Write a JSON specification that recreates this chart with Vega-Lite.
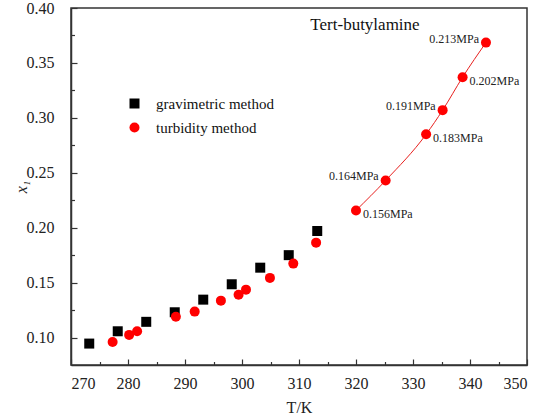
{
  "$schema": "https://vega.github.io/schema/vega-lite/v6.json",
  "width": 456,
  "height": 357,
  "autosize": {"type": "none"},
  "padding": {"left": 71, "top": 8, "right": 13, "bottom": 51},
  "background": "white",
  "title": {
    "text": "Tert-butylamine",
    "font": "Liberation Serif",
    "fontSize": 17,
    "fontWeight": "normal",
    "color": "#111",
    "anchor": "middle",
    "frame": "group",
    "dx": 66,
    "dy": 38
  },
  "config": {
    "font": "Liberation Serif",
    "title": {"font": "Liberation Serif"},
    "view": {"stroke": "#333", "strokeWidth": 1.5},
    "axis": {
      "labelFont": "Liberation Serif",
      "labelFontSize": 16,
      "labelColor": "#222",
      "titleFont": "Liberation Serif",
      "titleFontSize": 16,
      "titleFontWeight": "normal",
      "titleColor": "#222",
      "domainColor": "#333",
      "domainWidth": 1.5,
      "tickColor": "#333",
      "tickWidth": 1.2,
      "grid": false
    },
    "legend": {"labelFont": "Liberation Serif"},
    "text": {"font": "Liberation Serif"}
  },
  "data": {
    "values": [
      {"T": 273.2, "x1": 0.0945, "method": "gravimetric method"},
      {"T": 278.2, "x1": 0.1057, "method": "gravimetric method"},
      {"T": 283.2, "x1": 0.1143, "method": "gravimetric method"},
      {"T": 288.2, "x1": 0.123, "method": "gravimetric method"},
      {"T": 293.2, "x1": 0.1345, "method": "gravimetric method"},
      {"T": 298.2, "x1": 0.1485, "method": "gravimetric method"},
      {"T": 303.2, "x1": 0.1636, "method": "gravimetric method"},
      {"T": 308.2, "x1": 0.175, "method": "gravimetric method"},
      {"T": 313.2, "x1": 0.197, "method": "gravimetric method"},
      {"T": 277.3, "x1": 0.096, "method": "turbidity method"},
      {"T": 280.2, "x1": 0.1024, "method": "turbidity method"},
      {"T": 281.6, "x1": 0.1057, "method": "turbidity method"},
      {"T": 288.4, "x1": 0.119, "method": "turbidity method"},
      {"T": 291.7, "x1": 0.1236, "method": "turbidity method"},
      {"T": 296.3, "x1": 0.1336, "method": "turbidity method"},
      {"T": 299.4, "x1": 0.139, "method": "turbidity method"},
      {"T": 300.7, "x1": 0.1436, "method": "turbidity method"},
      {"T": 304.9, "x1": 0.1543, "method": "turbidity method"},
      {"T": 309.0, "x1": 0.1673, "method": "turbidity method"},
      {"T": 313.0, "x1": 0.1864, "method": "turbidity method"},
      {"T": 320.0, "x1": 0.2157, "method": "turbidity method", "label": "0.156MPa"},
      {"T": 325.2, "x1": 0.243, "method": "turbidity method", "label": "0.164MPa"},
      {"T": 332.3, "x1": 0.285, "method": "turbidity method", "label": "0.183MPa"},
      {"T": 335.2, "x1": 0.307, "method": "turbidity method", "label": "0.191MPa"},
      {"T": 338.7, "x1": 0.337, "method": "turbidity method", "label": "0.202MPa"},
      {"T": 342.8, "x1": 0.3685, "method": "turbidity method", "label": "0.213MPa"}
    ]
  },
  "encoding": {
    "x": {
      "field": "T",
      "type": "quantitative",
      "scale": {"domain": [270, 350], "nice": false, "zero": false},
      "axis": {
        "title": "T/K",
        "values": [270, 275, 280, 285, 290, 295, 300, 305, 310, 315, 320, 325, 330, 335, 340, 345, 350],
        "labelExpr": "datum.value % 10 === 0 ? datum.value : ''",
        "tickSize": {"condition": {"test": "datum.value % 10 === 0", "value": -6}, "value": -3.5},
        "labelPadding": 16,
        "titlePadding": 8
      }
    },
    "y": {
      "field": "x1",
      "type": "quantitative",
      "scale": {"domain": [0.075, 0.4], "nice": false, "zero": false},
      "axis": {
        "title": "x₁",
        "titleFontStyle": "italic",
        "titleX": -42,
        "values": [0.1, 0.125, 0.15, 0.175, 0.2, 0.225, 0.25, 0.275, 0.3, 0.325, 0.35, 0.375, 0.4],
        "labelExpr": "abs(datum.value * 20 - round(datum.value * 20)) < 0.01 ? format(datum.value, '.2f') : ''",
        "tickSize": {"condition": {"test": "abs(datum.value * 20 - round(datum.value * 20)) < 0.01", "value": -6}, "value": -3.5},
        "labelPadding": 23
      }
    }
  },
  "layer": [
    {
      "transform": [{"filter": "isValid(datum.label)"}],
      "mark": {"type": "line", "color": "#e8201e", "strokeWidth": 1, "interpolate": "monotone"},
      "encoding": {}
    },
    {
      "mark": {"type": "point", "filled": true, "opacity": 1, "size": 100},
      "encoding": {
        "color": {
          "field": "method",
          "type": "nominal",
          "scale": {"domain": ["gravimetric method", "turbidity method"], "range": ["#000000", "#ff0000"]},
          "legend": {
            "title": null,
            "orient": "none",
            "legendX": 56,
            "legendY": 88,
            "labelFont": "Liberation Serif",
            "labelFontSize": 15,
            "labelColor": "#111",
            "symbolSize": 100,
            "labelOffset": 14,
            "rowPadding": 8
          }
        },
        "shape": {
          "field": "method",
          "type": "nominal",
          "scale": {"domain": ["gravimetric method", "turbidity method"], "range": ["square", "circle"]}
        }
      }
    },
    {
      "transform": [{"filter": "indexof(['0.213MPa','0.191MPa','0.164MPa'], datum.label) >= 0"}],
      "mark": {"type": "text", "align": "right", "baseline": "middle", "dx": -7, "dy": -4, "font": "Liberation Serif", "fontSize": 12, "color": "#222"},
      "encoding": {"text": {"field": "label"}}
    },
    {
      "transform": [{"filter": "indexof(['0.202MPa','0.183MPa','0.156MPa'], datum.label) >= 0"}],
      "mark": {"type": "text", "align": "left", "baseline": "middle", "dx": 7, "dy": 4, "font": "Liberation Serif", "fontSize": 12, "color": "#222"},
      "encoding": {"text": {"field": "label"}}
    }
  ]
}
